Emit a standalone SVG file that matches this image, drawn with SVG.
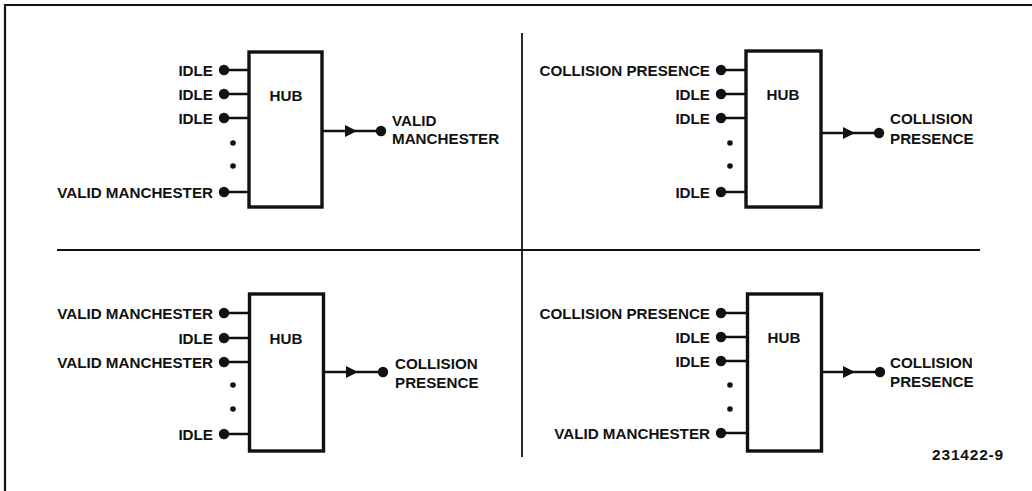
<svg xmlns="http://www.w3.org/2000/svg" width="1032" height="491" viewBox="0 0 1032 491">
<style>
.lbl{font-family:"Liberation Sans",Arial,sans-serif;font-weight:bold;font-size:15.2px;fill:#111}
.end{text-anchor:end}
.mid{text-anchor:middle}
.box{fill:#fff;stroke:#111;stroke-width:3.4}
.ln{stroke:#111;stroke-width:2.6;fill:none}
.frame{stroke:#111;stroke-width:2.2;fill:none}
.div{stroke:#111;stroke-width:1.8;fill:none}
.fig{font-family:"Liberation Sans",Arial,sans-serif;font-weight:bold;font-size:15.5px;fill:#111;text-anchor:end;letter-spacing:0.8px}
</style>
<defs>
<circle id="pin" r="5.2" fill="#111"/>
<circle id="dot" r="2.8" fill="#111"/>
<path id="arr" d="M0,-6 L12,0 L0,6 Z" fill="#111"/>
</defs>
<rect width="1032" height="491" fill="#fff"/>
<g id="frame">
<path class="frame" d="M5,491 V5 H1032"/>
<path class="div" d="M57,250 H980"/>
<path class="div" d="M522,33 V457"/>
</g>

<g id="connectors">
<path class="ln" d="M224,70 H249 M224,94 H249 M224,118 H249 M224,192 H249 M322,131 H381"/>
<use href="#pin" x="224" y="70"/><use href="#pin" x="224" y="94"/><use href="#pin" x="224" y="118"/><use href="#pin" x="224" y="192"/>
<use href="#dot" x="233" y="143"/><use href="#dot" x="233" y="166"/>
<use href="#arr" x="345" y="131"/><use href="#pin" x="381" y="131"/>
<path class="ln" d="M721,70 H746 M721,94 H746 M721,118 H746 M721,192 H746 M821,133 H879"/>
<use href="#pin" x="721" y="70"/><use href="#pin" x="721" y="94"/><use href="#pin" x="721" y="118"/><use href="#pin" x="721" y="192"/>
<use href="#dot" x="730" y="143"/><use href="#dot" x="730" y="166"/>
<use href="#arr" x="843" y="133"/><use href="#pin" x="879" y="133"/>
<path class="ln" d="M224,313 H249 M224,338 H249 M224,362 H249 M224,434 H249 M323,372 H383"/>
<use href="#pin" x="224" y="313"/><use href="#pin" x="224" y="338"/><use href="#pin" x="224" y="362"/><use href="#pin" x="224" y="434"/>
<use href="#dot" x="233" y="385"/><use href="#dot" x="233" y="409"/>
<use href="#arr" x="346" y="372"/><use href="#pin" x="383" y="372"/>
<path class="ln" d="M721,313 H747 M721,337 H747 M721,361 H747 M721,433 H747 M821,372 H880"/>
<use href="#pin" x="721" y="313"/><use href="#pin" x="721" y="337"/><use href="#pin" x="721" y="361"/><use href="#pin" x="721" y="433"/>
<use href="#dot" x="730" y="385"/><use href="#dot" x="730" y="409"/>
<use href="#arr" x="843" y="372"/><use href="#pin" x="880" y="372"/>
</g>

<g id="hub-tl">
<rect class="box" x="249" y="52" width="73" height="155"/>
<text class="lbl mid" x="286" y="101">HUB</text>
</g>
<g id="in-tl">
<text class="lbl end" x="213" y="76">IDLE</text>
<text class="lbl end" x="213" y="100">IDLE</text>
<text class="lbl end" x="213" y="124">IDLE</text>
<text class="lbl end" x="213" y="198">VALID MANCHESTER</text>
</g>
<g id="out-tl">
<text class="lbl" x="392" y="126">VALID</text>
<text class="lbl" x="392" y="144">MANCHESTER</text>
</g>

<g id="hub-tr">
<rect class="box" x="746" y="51" width="75" height="156"/>
<text class="lbl mid" x="783" y="100">HUB</text>
</g>
<g id="in-tr">
<text class="lbl end" x="710" y="76">COLLISION PRESENCE</text>
<text class="lbl end" x="710" y="100">IDLE</text>
<text class="lbl end" x="710" y="124">IDLE</text>
<text class="lbl end" x="710" y="198">IDLE</text>
</g>
<g id="out-tr">
<text class="lbl" x="890" y="124">COLLISION</text>
<text class="lbl" x="890" y="144">PRESENCE</text>
</g>

<g id="hub-bl">
<rect class="box" x="249.5" y="294" width="74" height="157"/>
<text class="lbl mid" x="286" y="344">HUB</text>
</g>
<g id="in-bl">
<text class="lbl end" x="213" y="319">VALID MANCHESTER</text>
<text class="lbl end" x="213" y="344">IDLE</text>
<text class="lbl end" x="213" y="368">VALID MANCHESTER</text>
<text class="lbl end" x="213" y="440">IDLE</text>
</g>
<g id="out-bl">
<text class="lbl" x="395" y="369">COLLISION</text>
<text class="lbl" x="395" y="388">PRESENCE</text>
</g>

<g id="hub-br">
<rect class="box" x="747.5" y="294" width="74" height="157"/>
<text class="lbl mid" x="784" y="343">HUB</text>
</g>
<g id="in-br">
<text class="lbl end" x="710" y="319">COLLISION PRESENCE</text>
<text class="lbl end" x="710" y="343">IDLE</text>
<text class="lbl end" x="710" y="367">IDLE</text>
<text class="lbl end" x="710" y="439">VALID MANCHESTER</text>
</g>
<g id="out-br">
<text class="lbl" x="890" y="368">COLLISION</text>
<text class="lbl" x="890" y="387">PRESENCE</text>
</g>

<text class="fig" x="1004" y="460">231422-9</text>
</svg>
